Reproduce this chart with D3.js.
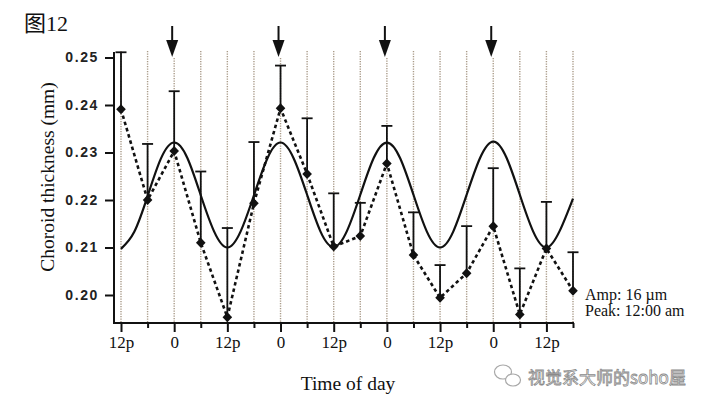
<!DOCTYPE html>
<html><head><meta charset="utf-8">
<script src="https://cdn.jsdelivr.net/npm/d3@7"></script>
<style>html,body{margin:0;padding:0;background:#fff;}svg{display:block;}</style>
</head><body>
<script>
// ---- data ----
const hours = [12,18,24,30,36,42,48,54,60,66,72,78,84,90,96,102,108,114];
const xTickLabels = ["12p","","0","","12p","","0","","12p","","0","","12p","","0","","12p",""];
const thickness = [0.2391,0.2200,0.2303,0.2110,0.1953,0.2193,0.2393,0.2255,0.2102,0.2124,0.2277,0.2084,0.1994,0.2046,0.2145,0.1959,0.2098,0.2009];
const errorTop  = [0.2511,0.2318,0.2429,0.2260,0.2141,0.2322,0.2483,0.2372,0.2214,0.2194,0.2356,0.2174,0.2063,0.2145,0.2267,0.2056,0.2196,0.2090];
const fitHours = [12,15,18,21,24,27,30,33,36,39,42,45,48,51,54,57,60,63,66,69,72,75,78,81,84,87,90,93,96,99,102,105,108,111,114];
const fitValues = [0.2097,0.2133,0.2208,0.2287,0.2321,0.2288,0.2210,0.2134,0.2100,0.2134,0.2210,0.2287,0.2321,0.2287,0.2211,0.2134,0.2101,0.2135,0.2211,0.2288,0.2321,0.2288,0.2211,0.2134,0.2100,0.2134,0.2211,0.2288,0.2323,0.2289,0.2211,0.2134,0.2100,0.2135,0.2203];
const arrowHours = [24,48,72,96];
const yTicks = [0.20,0.21,0.22,0.23,0.24,0.25];
const title = "图12";
const yTitle = "Choroid thickness (mm)";
const xTitle = "Time of day";
const notes = ["Amp: 16 µm","Peak: 12:00 am"];
const watermark = "视觉系大师的soho屋";

// ---- chart ----
const W = 708, H = 407;
const svg = d3.select("body").append("svg").attr("width", W).attr("height", H);
svg.append("rect").attr("width", W).attr("height", H).attr("fill", "#fff");

const x = d3.scaleLinear().domain([12,114]).range([121,573]);
const y = d3.scaleLinear().domain([0.20,0.25]).range([295,57.5]);
const axisX = 114, axisY = 323;
const serif = "'Liberation Serif','Times New Roman',serif";

// title
svg.append("text").attr("x", 24).attr("y", 31)
  .attr("font-family", "'Liberation Serif','Noto Sans CJK SC',serif")
  .attr("font-size", 22).attr("fill", "#111").text(title);

// gridlines
svg.append("g").selectAll("line").data(hours).join("line")
  .attr("x1", d => x(d)).attr("x2", d => x(d))
  .attr("y1", d => arrowHours.includes(d) ? 58 : 51).attr("y2", axisY)
  .attr("stroke", "#a99a88").attr("stroke-width", 1.4)
  .attr("stroke-dasharray", "1.2,1.3");

// arrows
const ag = svg.append("g");
arrowHours.forEach(h => {
  const cx = x(h) - 2;
  ag.append("line").attr("x1", cx).attr("x2", cx).attr("y1", 26).attr("y2", 44)
    .attr("stroke", "#111").attr("stroke-width", 2);
  ag.append("path").attr("d", `M${cx-6},${40}L${cx+6},${40}L${cx},${57}Z`).attr("fill", "#111");
});

// y axis
const yAxis = d3.axisLeft(y).tickValues(yTicks).tickSize(9).tickPadding(6)
  .tickFormat(d3.format(".2f"));
const gy = svg.append("g").attr("transform", `translate(${axisX},0)`).call(yAxis);
gy.select(".domain").remove();
gy.selectAll(".tick line").attr("stroke", "#111").attr("stroke-width", 2);
gy.selectAll(".tick text").attr("font-family", "'Liberation Sans',Arial,sans-serif")
  .attr("font-weight", "bold").attr("font-size", 14).attr("letter-spacing", 1.6).attr("fill", "#222");
svg.append("line").attr("x1", axisX).attr("x2", axisX).attr("y1", 52).attr("y2", axisY + 1)
  .attr("stroke", "#111").attr("stroke-width", 2);

// x axis
const xAxis = d3.axisBottom(x).tickValues(hours).tickSize(9).tickPadding(4)
  .tickFormat((d, i) => xTickLabels[i]);
const gx = svg.append("g").attr("transform", `translate(0,${axisY})`).call(xAxis);
gx.select(".domain").remove();
gx.selectAll(".tick line").attr("stroke", "#111").attr("stroke-width", 2)
  .attr("y2", (d, i) => xTickLabels[i] ? 9 : 5);
gx.selectAll(".tick text").attr("font-family", serif).attr("font-size", 17).attr("fill", "#111");
svg.append("line").attr("x1", axisX - 1).attr("x2", x(114) + 1).attr("y1", axisY).attr("y2", axisY)
  .attr("stroke", "#111").attr("stroke-width", 2);

// fitted curve
svg.append("path").datum(fitHours.map((h, i) => [h, fitValues[i]]))
  .attr("d", d3.line().x(d => x(d[0])).y(d => y(d[1])).curve(d3.curveNatural))
  .attr("fill", "none").attr("stroke", "#111").attr("stroke-width", 2.2);

// error bars
const eb = svg.append("g").attr("stroke", "#111").attr("stroke-width", 1.8);
hours.forEach((h, i) => {
  eb.append("line").attr("x1", x(h)).attr("x2", x(h)).attr("y1", y(thickness[i])).attr("y2", y(errorTop[i]));
  eb.append("line").attr("x1", x(h) - 5.5).attr("x2", x(h) + 5.5).attr("y1", y(errorTop[i])).attr("y2", y(errorTop[i]));
});

// dashed data line
svg.append("path").datum(hours.map((h, i) => [h, thickness[i]]))
  .attr("d", d3.line().x(d => x(d[0])).y(d => y(d[1])))
  .attr("fill", "none").attr("stroke", "#111").attr("stroke-width", 2.6)
  .attr("stroke-dasharray", "3.5,3");

// diamonds
svg.append("g").selectAll("path").data(hours).join("path")
  .attr("d", (h, i) => {
    const cx = x(h), cy = y(thickness[i]);
    return `M${cx},${cy-5}L${cx+4.8},${cy}L${cx},${cy+5}L${cx-4.8},${cy}Z`;
  }).attr("fill", "#111");

// annotations
svg.append("g").selectAll("text").data(notes).join("text")
  .attr("x", 585).attr("y", (d, i) => 300 + i * 16)
  .attr("font-family", serif).attr("font-size", 16).attr("fill", "#111").text(d => d);

// axis titles
svg.append("text").attr("transform", "translate(54,177) rotate(-90)")
  .attr("text-anchor", "middle").attr("font-family", serif).attr("font-size", 19.5)
  .attr("fill", "#111").text(yTitle);
svg.append("text").attr("x", 348).attr("y", 390).attr("text-anchor", "middle")
  .attr("font-family", serif).attr("font-size", 19.5).attr("fill", "#111").text(xTitle);

// watermark
const wm = svg.append("g").attr("fill", "#fff").attr("stroke", "#a8a8a8").attr("stroke-width", 1.2);
wm.append("ellipse").attr("cx", 503).attr("cy", 372).attr("rx", 8.5).attr("ry", 7);
wm.append("ellipse").attr("cx", 513).attr("cy", 380).attr("rx", 7.5).attr("ry", 6);
svg.append("text").attr("x", 528).attr("y", 384)
  .attr("font-family", "'Noto Sans CJK SC',sans-serif").attr("font-size", 17)
  .attr("fill", "#fff").attr("stroke", "#8a8a8a").attr("stroke-width", 0.8)
  .text(watermark);
</script>
</body></html>
